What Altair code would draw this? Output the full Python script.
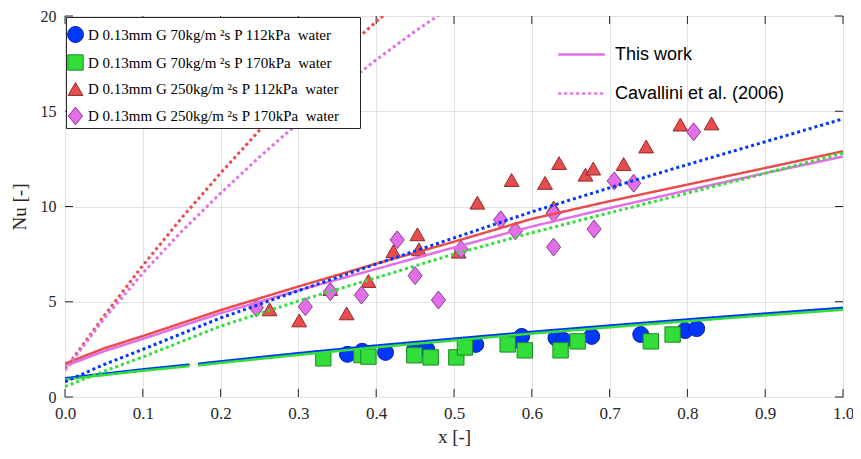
import altair as alt
import pandas as pd

SERIF = "Liberation Serif"
SANS = "Liberation Sans"

series = [
    "D 0.13mm G 70kg/m \u00b2s P 112kPa\u00a0 water",
    "D 0.13mm G 70kg/m \u00b2s P 170kPa\u00a0 water",
    "D 0.13mm G 250kg/m \u00b2s P 112kPa\u00a0 water",
    "D 0.13mm G 250kg/m \u00b2s P 170kPa\u00a0 water",
]
kinds = ["This work", "Cavallini et al. (2006)"]

fill_colors = ["#0037ff", "#33dd3a", "#e84c4c", "#e36fe8"]
edge_colors = ["#0a22a0", "#1d8a22", "#8e2a2a", "#8e3c8e"]
shapes = ["circle", "square", "M0,-0.87L1,0.87L-1,0.87Z", "M0,-1.27L1,0L0,1.27L-1,0Z"]
sizes = [254, 200, 462, 361]

# experimental points
circ_x = [0.363, 0.382, 0.412, 0.449, 0.465, 0.528, 0.573, 0.587, 0.631, 0.641, 0.677, 0.740, 0.797, 0.812]
circ_y = [2.24, 2.40, 2.34, 2.45, 2.50, 2.76, 2.86, 3.18, 3.10, 2.97, 3.18, 3.28, 3.49, 3.59]
sq_x = [0.332, 0.381, 0.390, 0.449, 0.470, 0.503, 0.514, 0.569, 0.591, 0.637, 0.659, 0.753, 0.781]
sq_y = [2.03, 2.20, 2.12, 2.19, 2.08, 2.08, 2.60, 2.76, 2.45, 2.45, 2.92, 2.92, 3.28]
tri_x = [0.263, 0.301, 0.341, 0.362, 0.390, 0.422, 0.453, 0.455, 0.506, 0.530, 0.574, 0.617,
         0.628, 0.635, 0.669, 0.679, 0.718, 0.747, 0.791, 0.831]
tri_y = [4.60, 4.02, 5.67, 4.39, 6.09, 7.65, 8.54, 7.75, 7.63, 10.2, 11.39, 11.24,
         9.95, 12.28, 11.67, 11.99, 12.23, 13.15, 14.30, 14.36]
dia_x = [0.246, 0.309, 0.341, 0.381, 0.427, 0.450, 0.480, 0.509, 0.560, 0.579, 0.628, 0.628,
         0.680, 0.706, 0.731, 0.808]
dia_y = [4.68, 4.74, 5.53, 5.35, 8.25, 6.37, 5.09, 7.75, 9.30, 8.72, 9.65, 7.87,
         8.82, 11.34, 11.22, 13.92]

# model curves ("This work", solid)
tw_xa = [0.0, 0.05, 0.1, 0.16]
tw_xb = [0.171, 0.2, 0.3, 0.4, 0.5, 0.6, 0.7, 0.8, 0.9, 1.0]
tw_blue_a = [0.98, 1.22, 1.45, 1.70]
tw_blue_b = [1.74, 1.87, 2.30, 2.70, 3.06, 3.42, 3.75, 4.07, 4.38, 4.68]
tw_green_a = [0.92, 1.15, 1.38, 1.62]
tw_green_b = [1.66, 1.79, 2.21, 2.61, 2.97, 3.33, 3.66, 3.98, 4.29, 4.58]
tw_x = [0.0, 0.05, 0.1, 0.2, 0.3, 0.4, 0.5, 0.6, 0.7, 0.8, 0.9, 1.0]
tw_red = [1.75, 2.55, 3.20, 4.56, 5.80, 7.00, 8.15, 9.35, 10.28, 11.15, 12.02, 12.90]
tw_violet = [1.62, 2.40, 3.05, 4.40, 5.60, 6.72, 7.85, 8.95, 9.92, 10.85, 11.75, 12.62]

# Cavallini et al. (2006), dotted
cv_x = [0.0, 0.05, 0.1, 0.2, 0.3, 0.4, 0.5, 0.6, 0.7, 0.8, 0.9, 1.0]
cv_blue = [0.80, 1.70, 2.50, 4.15, 5.58, 6.98, 8.35, 9.72, 10.98, 12.20, 13.40, 14.60]
cv_green = [0.55, 1.35, 2.10, 3.72, 5.04, 6.26, 7.50, 8.62, 9.67, 10.70, 11.74, 12.80]
cv_red_x = [0.0, 0.05, 0.1, 0.15, 0.2, 0.25, 0.3, 0.35, 0.4, 0.45]
cv_red = [1.45, 4.25, 6.90, 9.40, 11.75, 14.00, 16.00, 17.90, 19.70, 21.40]
cv_violet_x = [0.0, 0.05, 0.1, 0.15, 0.2, 0.25, 0.3, 0.35, 0.4, 0.45, 0.5]
cv_violet = [1.40, 4.10, 6.50, 8.70, 10.70, 12.60, 14.40, 16.10, 17.70, 19.20, 20.60]

x_ticks = [0.0, 0.1, 0.2, 0.3, 0.4, 0.5, 0.6, 0.7, 0.8, 0.9, 1.0]
y_ticks = [0, 5, 10, 15, 20]

# ---- tables ----
pts = []
for s, xs_, ys_ in zip(series, [circ_x, sq_x, tri_x, dia_x], [circ_y, sq_y, tri_y, dia_y]):
    for a, b in zip(xs_, ys_):
        pts.append({"series": s, "x": a, "nu": b})
pts = pd.DataFrame(pts)

rows = []
def add(s, k, seg, xx, yy):
    for a, b in zip(xx, yy):
        rows.append({"series": s, "kind": k, "seg": seg, "x": a, "nu": b})

add(series[0], kinds[0], "b1", tw_xa, tw_blue_a)
add(series[0], kinds[0], "b2", tw_xb, tw_blue_b)
add(series[1], kinds[0], "g1", tw_xa, tw_green_a)
add(series[1], kinds[0], "g2", tw_xb, tw_green_b)
add(series[2], kinds[0], "r", tw_x, tw_red)
add(series[3], kinds[0], "v", tw_x, tw_violet)
add(series[0], kinds[1], "cb", cv_x, cv_blue)
add(series[1], kinds[1], "cg", cv_x, cv_green)
add(series[2], kinds[1], "cr", cv_red_x, cv_red)
add(series[3], kinds[1], "cv", cv_violet_x, cv_violet)
lines = pd.DataFrame(rows)
solid = lines[lines["kind"] == kinds[0]]
dotted = lines[lines["kind"] == kinds[1]]

xt = pd.DataFrame({"t": x_ticks})
yt = pd.DataFrame({"t": y_ticks})

W, H = 778, 381
TXT = "#262626"

xscale = alt.Scale(domain=[0, 1], nice=False, zero=False)
yscale = alt.Scale(domain=[0, 20], nice=False, zero=False)
x_axis = alt.Axis(values=x_ticks, format=".1f", grid=True, ticks=False, domain=False,
                  gridColor="#e2e2e2", labelFont=SERIF, labelFontSize=17, labelColor=TXT,
                  labelPadding=8, labelFlush=False, titleFont=SERIF, titleFontSize=19,
                  titleFontWeight="normal", titleColor=TXT, titlePadding=6)
y_axis = alt.Axis(values=y_ticks, format="d", grid=True, ticks=False, domain=False,
                  gridColor="#e2e2e2", labelFont=SERIF, labelFontSize=16, labelColor=TXT,
                  labelPadding=9, titleFont=SERIF, titleFontSize=19,
                  titleFontWeight="normal", titleColor=TXT, titlePadding=11)

def X(f):
    return alt.X(f"{f}:Q", scale=xscale, axis=x_axis, title="x [-]")

def Y(f):
    return alt.Y(f"{f}:Q", scale=yscale, axis=y_axis, title="Nu [-]")

leg1 = alt.Legend(orient="none", legendX=1, legendY=1, title="\u00a0", titleFontSize=1,
                  titlePadding=7, fillColor="white",
                  strokeColor=TXT, padding=1, rowPadding=7, labelFont=SERIF,
                  labelFontSize=15, labelColor="black", labelLimit=600, labelOffset=4,
                  symbolOpacity=1, symbolStrokeWidth=1,
                  labelExpr="datum.label + '" + "\u00a0" * 5 + "\u200b'")
leg2 = alt.Legend(orient="none", legendX=505, legendY=27, title=None,
                  symbolType="M-2.33,0L2.33,0",
                  symbolStrokeColor="#e36fe8", symbolStrokeWidth=2.5, symbolSize=400,
                  labelFont=SANS, labelFontSize=18, labelColor="black", rowPadding=18,
                  labelOffset=22, padding=0, labelLimit=600)

dom = alt.Scale(domain=series, range=fill_colors)

points = alt.Chart(pts).mark_point(filled=True, opacity=1, strokeWidth=1).encode(
    x=X("x"), y=Y("nu"),
    fill=alt.Fill("series:N", scale=alt.Scale(domain=series, range=fill_colors), legend=leg1),
    stroke=alt.Stroke("series:N", scale=alt.Scale(domain=series, range=edge_colors), legend=leg1),
    shape=alt.Shape("series:N", scale=alt.Scale(domain=series, range=shapes), legend=leg1),
    size=alt.Size("series:N", scale=alt.Scale(domain=series, range=sizes), legend=leg1),
)

dash = alt.StrokeDash("kind:N", scale=alt.Scale(domain=kinds, range=[[1, 0], [3, 3]]), legend=leg2)

solid_l = alt.Chart(solid).mark_line(strokeWidth=2.5, clip=True, strokeCap="butt").encode(
    x=X("x"), y=Y("nu"),
    color=alt.Color("series:N", scale=dom, legend=None),
    strokeDash=dash, detail="seg:N", order="x:Q",
)
dotted_l = alt.Chart(dotted).mark_line(strokeWidth=3, clip=True, strokeCap="butt").encode(
    x=X("x"), y=Y("nu"),
    color=alt.Color("series:N", scale=dom, legend=None),
    strokeDash=dash, detail="seg:N", order="x:Q",
)

TL = 8
tb = alt.Chart(xt).mark_rule(color=TXT, strokeWidth=1).encode(
    x=X("t"), y=alt.value(H), y2=alt.value(H - TL))
tt = alt.Chart(xt).mark_rule(color=TXT, strokeWidth=1).encode(
    x=X("t"), y=alt.value(0), y2=alt.value(TL))
tl = alt.Chart(yt).mark_rule(color=TXT, strokeWidth=1).encode(
    y=Y("t"), x=alt.value(0), x2=alt.value(TL))
tr = alt.Chart(yt).mark_rule(color=TXT, strokeWidth=1).encode(
    y=Y("t"), x=alt.value(W), x2=alt.value(W - TL))

chart = alt.layer(tb, tt, tl, tr, points, solid_l, dotted_l).properties(
    width=W, height=H,
    autosize=alt.AutoSizeParams(type="none"),
    padding={"left": 57, "top": 8, "right": 10, "bottom": 54},
    background="white",
).configure_view(stroke=TXT, strokeWidth=1)

chart.save("out.html", embed_options={"renderer": "svg", "actions": False})
